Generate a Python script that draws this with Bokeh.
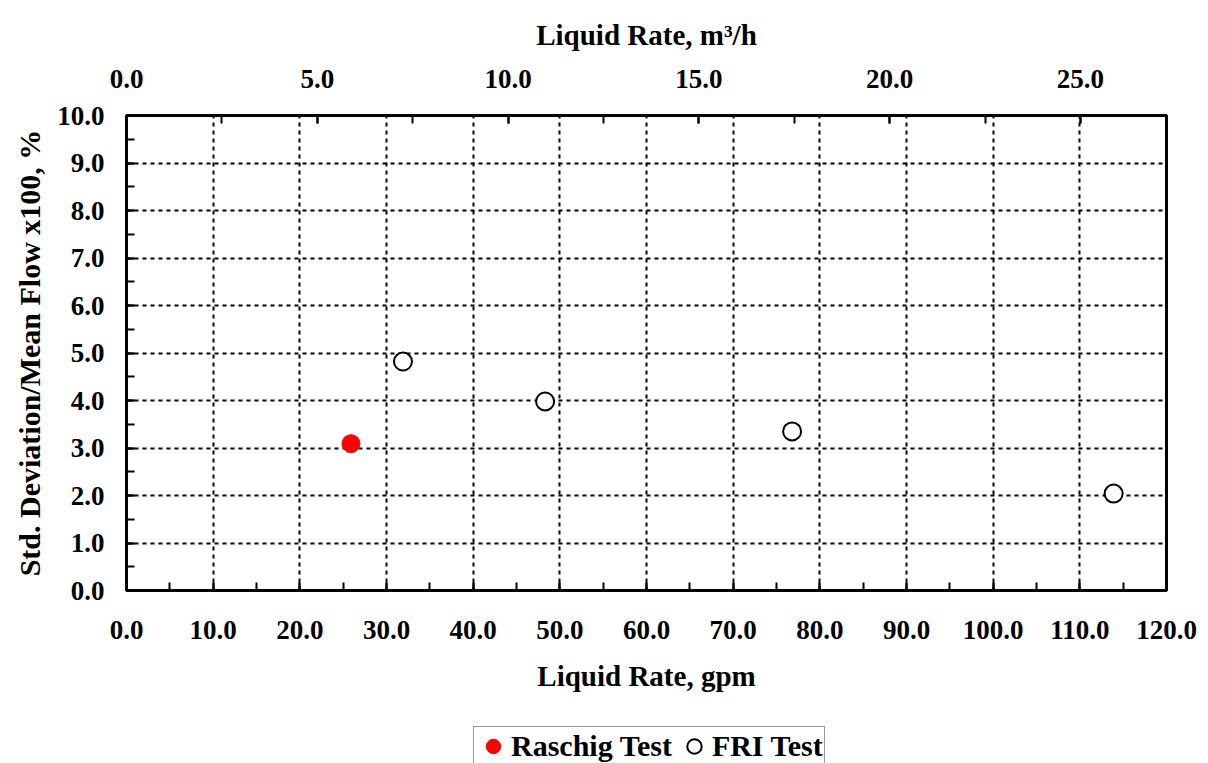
from bokeh.plotting import figure
from bokeh.layouts import column
from bokeh.models import (LinearAxis, Range1d, SingleIntervalTicker, NumeralTickFormatter,
                          Legend, LegendItem)
from bokeh.embed import file_html
from bokeh.resources import INLINE

# data
raschig_gpm = [25.9]
raschig_sd = [3.09]
fri_gpm = [31.9, 48.3, 76.8, 113.9]
fri_sd = [4.82, 3.98, 3.35, 2.04]
GPM_PER_M3H = 4.40287
series_names = ["Raschig Test", "FRI Test"]

FONT = "Liberation Serif"

p = figure(width=1200, height=705, output_backend="svg", toolbar_location=None,
           x_range=Range1d(0, 120), y_range=Range1d(0, 10),
           min_border_left=126, min_border_right=34, min_border_top=115, min_border_bottom=115,
           x_axis_label="Liquid Rate, gpm",
           y_axis_label="Std. Deviation/Mean Flow x100, %")
p.background_fill_color = "white"
p.border_fill_color = "white"
p.outline_line_color = "black"
p.outline_line_width = 3

p.extra_x_ranges = {"m3h": Range1d(0, 120 / GPM_PER_M3H)}
top = LinearAxis(x_range_name="m3h", axis_label="Liquid Rate, m³/h",
                 ticker=SingleIntervalTicker(interval=5, num_minor_ticks=2))
p.add_layout(top, "above")

bottom = p.below[0]
bottom.ticker = SingleIntervalTicker(interval=10, num_minor_ticks=2)
left = p.left[0]
left.ticker = SingleIntervalTicker(interval=1, num_minor_ticks=2)

for ax in (bottom, left, top):
    ax.formatter = NumeralTickFormatter(format="0.0")
    ax.major_label_text_font = FONT
    ax.major_label_text_font_style = "bold"
    ax.major_label_text_font_size = "27px"
    ax.major_label_text_color = "black"
    ax.axis_label_text_font = FONT
    ax.axis_label_text_font_style = "bold"
    ax.axis_label_text_font_size = "29px"
    ax.axis_label_text_color = "black"
    ax.axis_line_width = 3
    ax.axis_line_color = "black"
    ax.major_tick_out = 0
    ax.major_tick_in = 8
    ax.minor_tick_out = 0
    ax.minor_tick_in = 8
    ax.major_tick_line_width = 2
    ax.minor_tick_line_width = 2
    ax.major_tick_line_color = "black"
    ax.minor_tick_line_color = "black"

left.axis_label_text_font_size = "30px"
bottom.major_label_standoff = 30
bottom.axis_label_standoff = 18
left.major_label_standoff = 22
left.axis_label_standoff = 8
top.major_label_standoff = 28
top.axis_label_standoff = 16

p.xgrid.ticker = SingleIntervalTicker(interval=10)
p.ygrid.ticker = SingleIntervalTicker(interval=1)
for g in (p.xgrid[0], p.ygrid[0]):
    g.grid_line_color = "black"
    g.grid_line_width = 2
    g.grid_line_dash = "4 4"

p.scatter(raschig_gpm, raschig_sd, size=18, marker="circle",
          fill_color="red", line_color="red")
p.scatter(fri_gpm, fri_sd, size=18, marker="circle",
          fill_color="white", line_color="black", line_width=2)

# legend strip below the chart (its frame is aligned with the chart frame)
p2 = figure(width=1200, height=58, output_backend="svg", toolbar_location=None,
            x_range=Range1d(0, 1), y_range=Range1d(0, 1),
            x_axis_location=None, y_axis_location=None,
            min_border_left=0, min_border_right=0, min_border_top=0, min_border_bottom=0)
p2.grid.visible = False
p2.outline_line_color = None
p2.background_fill_color = "white"
p2.border_fill_color = "white"
nan = float("nan")
l1 = p2.scatter(x=[nan], y=[nan], marker="circle", fill_color="red", line_color="red")
l2 = p2.scatter(x=[nan], y=[nan], marker="circle", fill_color="white", line_color="black",
                line_width=2)

legend = Legend(items=[LegendItem(label=series_names[0], renderers=[l1]),
                       LegendItem(label=series_names[1], renderers=[l2])],
                orientation="horizontal", location=(347, -3))
legend.label_text_font = FONT
legend.label_text_font_style = "bold"
legend.label_text_font_size = "30px"
legend.label_text_color = "black"
legend.border_line_color = "#333333"
legend.border_line_width = 1.5
legend.padding = 1
legend.spacing = 4
legend.margin = 0
legend.label_standoff = 0
legend.glyph_width = 36
legend.glyph_height = 36
legend.background_fill_alpha = 1
p2.add_layout(legend, "center")

open("out.html", "w").write(file_html(column(p, p2), INLINE))
